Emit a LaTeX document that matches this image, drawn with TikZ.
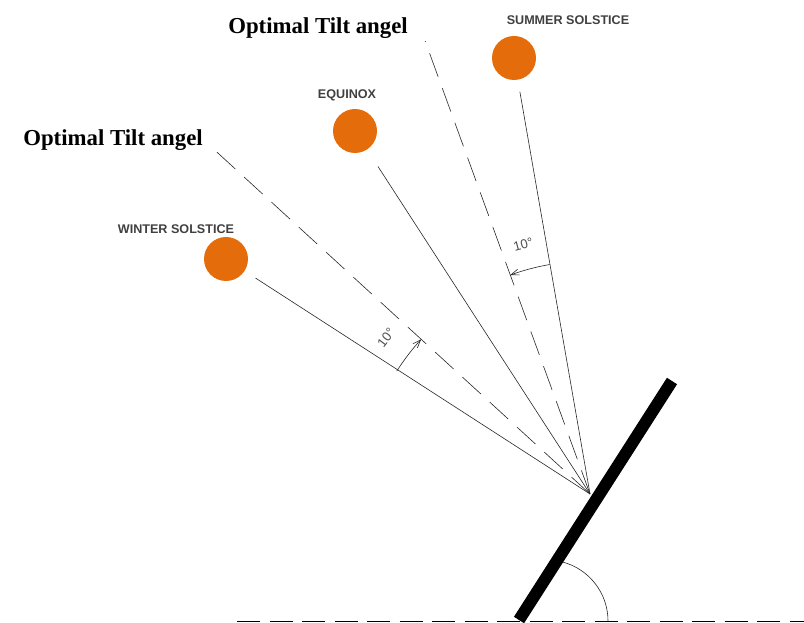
\documentclass[tikz,border=0pt]{standalone}
\usepackage{fontspec}
\setmainfont{Liberation Serif}
\setsansfont{Liberation Sans}
\usetikzlibrary{arrows.meta,calc}
\definecolor{sunorange}{RGB}{228,108,10}
\definecolor{labelgray}{RGB}{64,64,64}

\begin{document}
\begin{tikzpicture}[x=1pt,y=1pt]
\tikzset{
  sun/.style={circle,fill=sunorange,draw=none,minimum size=44pt,inner sep=0pt},
  sunlabel/.style={font=\sffamily\bfseries\fontsize{12.6}{14}\selectfont,text=labelgray,inner sep=0pt},
  optlabel/.style={font=\rmfamily\bfseries\fontsize{22.8}{26}\selectfont,inner sep=0pt},
  ray/.style={draw=black!85,line width=0.6pt},
  optray/.style={draw=black!85,line width=0.6pt,dash pattern=on 25pt off 12pt},
  dimarc/.style={draw=black!85,line width=0.6pt,-{Straight Barb[length=8pt,width=6pt]}},
  anglelabel/.style={font=\sffamily\fontsize{13}{14}\selectfont,text=black!70,inner sep=0pt}
}
\useasboundingbox (0,0) rectangle (804,622);
\coordinate (P) at (590,128);
\node[sun] (winter) at (226,363) {};
\node[sun] (equinox) at (355,491) {};
\node[sun] (summer) at (514,564) {};
\node[sunlabel] (winterlbl) at (176,393) {WINTER SOLSTICE};
\node[sunlabel] (equinoxlbl) at (347,527) {EQUINOX};
\node[sunlabel] (summerlbl) at (568,602) {SUMMER SOLSTICE};
\draw[ray,shorten >=13pt] (P) -- (winter);
\draw[ray,shorten >=20pt] (P) -- (equinox);
\draw[ray,shorten >=12pt] (P) -- (summer);
\coordinate (lowopt) at ($(P)+(137.5:507)$);
\coordinate (highopt) at ($(P)+(110:482)$);
\draw[optray] (P) -- (lowopt);
\draw[optray] (P) -- (highopt);
\node[optlabel] (lowoptlbl) at (113,482) {Optimal Tilt angel};
\node[optlabel] (highoptlbl) at (318,594) {Optimal Tilt angel};
\draw[dimarc] ($(P)+(147.5:229)$) arc[start angle=147.5,end angle=137.5,radius=229];
\draw[dimarc] ($(P)+(100:233)$) arc[start angle=100,end angle=110,radius=233];
\node[anglelabel,rotate=52.5] (winterangle) at ($(P)+(142.5:257)$) {10°};
\node[anglelabel,rotate=15] (summerangle) at ($(P)+(105:258)$) {10°};
\coordinate (panelbot) at (519,2);
\coordinate (paneltop) at (672,241);
\draw[line width=12pt] (panelbot) -- (paneltop);
\coordinate (groundstart) at (237,1);
\coordinate (groundend) at (804,1);
\draw[line width=1pt,dash pattern=on 23pt off 9.5pt] (groundstart) -- (groundend);
\coordinate (tiltarcstart) at (608,1);
\draw[draw=black!85,line width=0.6pt] (tiltarcstart) arc[start angle=0,end angle=75,radius=61];
\end{tikzpicture}
\end{document}
